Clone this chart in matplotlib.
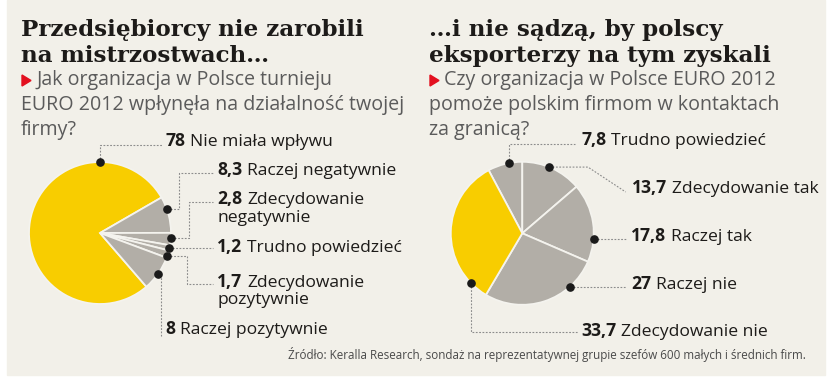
import math
import matplotlib
matplotlib.use("Agg")
import matplotlib.pyplot as plt
from matplotlib.patches import Rectangle, Polygon

# ---------------- data ----------------
left_title = ["Przedsiębiorcy nie zarobili", "na mistrzostwach…"]
left_question = ["Jak organizacja w Polsce turnieju",
                 "EURO 2012 wpłynęła na działalność twojej",
                 "firmy?"]
left_values = [78, 8.3, 2.8, 1.2, 1.7, 8]
left_value_text = ["78", "8,3", "2,8", "1,2", "1,7", "8"]
left_categories = [["Nie miała wpływu"], ["Raczej negatywnie"],
                   ["Zdecydowanie", "negatywnie"], ["Trudno powiedzieć"],
                   ["Zdecydowanie", "pozytywnie"], ["Raczej pozytywnie"]]

right_title = ["…i nie sądzą, by polscy", "eksporterzy na tym zyskali"]
right_question = ["Czy organizacja w Polsce EURO 2012",
                  "pomoże polskim firmom w kontaktach",
                  "za granicą?"]
right_values = [7.8, 13.7, 17.8, 27, 33.7]
right_value_text = ["7,8", "13,7", "17,8", "27", "33,7"]
right_categories = [["Trudno powiedzieć"], ["Zdecydowanie tak"], ["Raczej tak"],
                    ["Raczej nie"], ["Zdecydowanie nie"]]

source = ("Źródło: Keralla Research, sondaż na reprezentatywnej grupie "
          "szefów 600 małych i średnich firm.")

# ---------------- style ----------------
W, H = 830, 389
YELLOW = "#f8cd00"
GRAY = "#b2aea7"
PANEL = "#f2f0e9"
INK = "#1d1b19"
QGRAY = "#5b5b5b"
LEAD = "#8c8c8c"
RED = "#e3101f"
SANS = ["Open Sans", "DejaVu Sans"]
SERIF = ["DejaVu Serif"]

fig = plt.figure(figsize=(W / 100, H / 100), dpi=100, facecolor="white")
ax = fig.add_axes([0, 0, 1, 1])


def Y(y):
    return H - y


ax.add_patch(Rectangle((7, Y(375)), 818, 375, color=PANEL, zorder=0))


def header(x0, title, question):
    for i, line in enumerate(title):
        ax.text(x0, Y(36 + 26 * i), line, family=SERIF, fontweight="bold",
                fontsize=16.6, color=INK, va="baseline", ha="left")
    tri = Polygon([(x0 + 1, Y(75)), (x0 + 1, Y(86)), (x0 + 10, Y(80.5))],
                  closed=True, color=RED, zorder=3)
    ax.add_patch(tri)
    for i, line in enumerate(question):
        xx = x0 + 15 if i == 0 else x0
        ax.text(xx, Y(85 + 25 * i), line, family=SANS, fontsize=14.1,
                color=QGRAY, va="baseline", ha="left")


header(21, left_title, left_question)
header(429, right_title, right_question)


def draw_pie(values, colors, cx, cy, R, start_edge, dot_frac, leaders,
             anchors, value_text, categories):
    # first slice ends at start_edge (clockwise), so start = edge + first sweep
    start = start_edge + values[0] * 3.6
    wedges, _ = ax.pie(values, colors=colors, startangle=start,
                       counterclock=False, radius=R, center=(cx, Y(cy)),
                       frame=True,
                       wedgeprops=dict(edgecolor="#f4f3ee", linewidth=1.3))
    for w, f, lead, (lx, ly), num, cat in zip(wedges, dot_frac, leaders,
                                              anchors, value_text, categories):
        ang = math.radians(w.theta2 - f * (w.theta2 - w.theta1))
        dx = cx + R * math.cos(ang)
        dy = cy - R * math.sin(ang)
        xs, ys = [dx], [dy]
        for step in lead:
            if step[0] == "h":
                xs.append(step[1]); ys.append(ys[-1])
            elif step[0] == "v":
                xs.append(xs[-1]); ys.append(step[1])
            else:
                xs.append(step[1]); ys.append(step[2])
        ax.plot(xs, [Y(v) for v in ys], color=LEAD, lw=0.8,
                ls=(0, (1.6, 1.4)), zorder=4, solid_capstyle="butt")
        ax.plot([dx], [Y(dy)], "o", ms=5.2, color="#1a1a1a", zorder=6)
        t = ax.text(lx, Y(ly), num, family=SANS, fontweight="bold",
                    fontsize=12.6, color=INK, va="baseline", ha="left")
        ax.annotate(cat[0], xy=(1, 0), xycoords=t, xytext=(3.8, 0),
                    textcoords="offset points", va="bottom", ha="left",
                    family=SANS, fontsize=12.6, color=INK)
        for k, extra in enumerate(cat[1:]):
            ax.text(lx, Y(ly + 17.5 * (k + 1)), extra, family=SANS,
                    fontsize=12.6, color=INK, va="baseline", ha="left")


left_colors = [YELLOW] + [GRAY] * (len(left_values) - 1)
right_colors = [YELLOW if v == max(right_values) else GRAY for v in right_values]

draw_pie(left_values, left_colors, 100, 233, 71, 30,
         [0.786, 0.33, 0.41, 0.54, 0.71, 0.52],
         [[("v", 145), ("h", 163)],
          [("h", 179.3), ("v", 172.7), ("h", 213)],
          [("h", 189.3), ("v", 201.7), ("h", 213)],
          [("h", 213)],
          [("h", 186.7), ("v", 284), ("h", 213)],
          [("h", 161), ("v", 336)]],
         [(165, 146), (217, 175), (217, 204), (217, 252), (217, 287), (165, 334.5)],
         left_value_text, left_categories)

draw_pie(right_values, right_colors, 522.3, 233.3, 71.5, 90,
         [0.63, 0.45, 0.71, 0.26, 0.13],
         [[("v", 144), ("h", 575)],
          [("h", 588), ("p", 625.7, 192)],
          [("h", 625.7)],
          [("h", 625.7)],
          [("v", 331.7), ("h", 578)]],
         [(581, 145), (632, 193), (631, 241), (631, 289), (581, 336)],
         right_value_text, right_categories)

ax.text(806, Y(358.5), source, family=SANS, fontsize=8.4, color="#4a4a4a",
        ha="right", va="baseline")

ax.set_xlim(0, W)
ax.set_ylim(0, H)
ax.set_aspect("auto")
ax.axis("off")

fig.savefig("out.png", dpi=100, facecolor="white")
